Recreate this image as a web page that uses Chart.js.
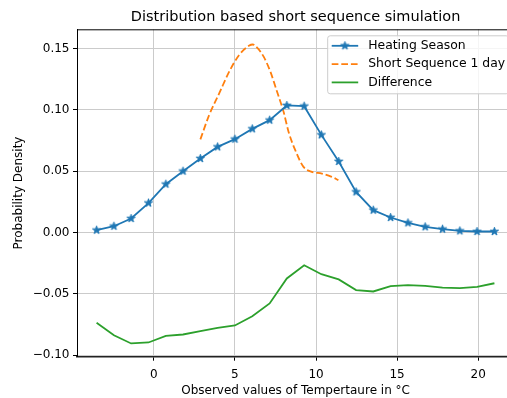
<!DOCTYPE html>
<html>
<head>
<meta charset="utf-8">
<script src="https://cdn.jsdelivr.net/npm/chart.js@4.4.1/dist/chart.umd.min.js"></script>
<style>
    html, body { margin: 0; padding: 0; background: #fff; overflow: hidden; }
    #wrap { width: 507px; height: 398px; overflow: hidden; }
</style>
</head>
<body>
<div id="wrap"><canvas id="chart" width="520" height="398"></canvas></div>
<script>
// Temperature grid shared by the heating season and difference curves (°C)
const temps = [-3.53, -2.46, -1.40, -0.33, 0.74, 1.80, 2.87, 3.93, 5.00, 6.07, 7.14, 8.20,
               9.27, 10.33, 11.40, 12.47, 13.53, 14.60, 15.67, 16.73, 17.80, 18.87, 19.93, 21.00];
const heatingSeason = [0.0019, 0.0051, 0.0114, 0.0240, 0.0394, 0.0500, 0.0603, 0.0698, 0.0761, 0.0845, 0.0916, 0.1036,
                       0.1030, 0.0796, 0.0579, 0.0331, 0.0182, 0.0122, 0.0078, 0.0046, 0.0027, 0.0013, 0.0008, 0.0008];
const difference = [-0.0737, -0.0838, -0.0905, -0.0897, -0.0843, -0.0832, -0.0805, -0.0778, -0.0758, -0.0683, -0.0579, -0.0375,
                    -0.0267, -0.0340, -0.0383, -0.0470, -0.0481, -0.0438, -0.0430, -0.0436, -0.0449, -0.0454, -0.0444, -0.0414];

// Short sequence (1 day) density, only covers part of the range
const shortTemps = [2.87, 3.41, 4.03, 4.64, 5.25, 5.86, 6.10, 6.27, 6.78, 7.19, 7.60, 8.00, 8.31, 8.72, 9.23, 9.74, 10.36, 10.97, 11.38];
const shortSeq = [0.0759, 0.0957, 0.1134, 0.1310, 0.1446, 0.1522, 0.1533, 0.1520, 0.1432, 0.1310, 0.1147, 0.0984,
                  0.0820, 0.0671, 0.0535, 0.0494, 0.0481, 0.0454, 0.0427];

const xTicks = [0, 5, 10, 15, 20];
const yTicks = [-0.10, -0.05, 0.00, 0.05, 0.10, 0.15];
const yTickLabels = ['\u22120.10', '\u22120.05', '0.00', '0.05', '0.10', '0.15'];

const FONT = "'DejaVu Sans', 'Liberation Sans', sans-serif";
const BLUE = '#1f77b4';
const ORANGE = '#ff7f0e';
const GREEN = '#2ca02c';

// matplotlib-like filled star marker
function starMarker(color) {
    const size = 11;
    const c = document.createElement('canvas');
    c.width = c.height = size;
    const g = c.getContext('2d');
    const r = 4.3, ri = r * 0.382, cx = size / 2, cy = size / 2;
    g.beginPath();
    for (let i = 0; i < 10; i++) {
        const a = -Math.PI / 2 + i * Math.PI / 5;
        const rr = i % 2 ? ri : r;
        g.lineTo(cx + rr * Math.cos(a), cy + rr * Math.sin(a));
    }
    g.closePath();
    g.fillStyle = color;
    g.fill();
    g.strokeStyle = color;
    g.lineWidth = 1;
    g.lineJoin = 'round';
    g.stroke();
    return c;
}

const starImg = starMarker(BLUE);

// top spine (the right one is cut off in the original)
const topSpine = {
    id: 'topSpine',
    afterDraw(chart) {
        const { ctx, chartArea } = chart;
        ctx.save();
        ctx.strokeStyle = '#000';
        ctx.lineWidth = 1;
        ctx.beginPath();
        ctx.moveTo(chartArea.left, chartArea.top + 0.5);
        ctx.lineTo(chartArea.right, chartArea.top + 0.5);
        ctx.stroke();
        ctx.restore();
    }
};

// legend box in the upper right corner, drawn like matplotlib does it
const legendBox = {
    id: 'legendBox',
    afterDraw(chart) {
        const { ctx, chartArea } = chart;
        const w = 181, h = 58, rowH = 18.3;
        const x0 = chartArea.right - 6 - w;
        const y0 = chartArea.top + 6;
        ctx.save();
        ctx.beginPath();
        ctx.roundRect(x0 + 0.5, y0 + 0.5, w, h, 2.5);
        ctx.fillStyle = 'rgba(255,255,255,0.8)';
        ctx.fill();
        ctx.strokeStyle = '#cccccc';
        ctx.lineWidth = 1;
        ctx.stroke();

        chart.data.datasets.forEach((ds, i) => {
            const y = y0 + 10.5 + i * rowH;
            ctx.beginPath();
            ctx.setLineDash(ds.borderDash || []);
            ctx.strokeStyle = ds.borderColor;
            ctx.lineWidth = ds.borderWidth;
            ctx.moveTo(x0 + 4.5, y);
            ctx.lineTo(x0 + 31, y);
            ctx.stroke();
            ctx.setLineDash([]);
            if (ds.pointStyle instanceof HTMLCanvasElement) {
                const img = ds.pointStyle;
                ctx.drawImage(img, x0 + 17.7 - img.width / 2, y - img.height / 2);
            }
            ctx.fillStyle = '#000';
            ctx.font = '12.4px ' + FONT;
            ctx.textBaseline = 'middle';
            ctx.fillText(ds.label, x0 + 41, y);
        });
        ctx.restore();
    }
};

const ctx = document.getElementById('chart');
new Chart(ctx, {
    type: 'line',
    data: {
        datasets: [{
            label: 'Heating Season',
            data: temps.map((t, i) => ({ x: t, y: heatingSeason[i] })),
            borderColor: BLUE,
            backgroundColor: BLUE,
            borderWidth: 1.8,
            pointStyle: starImg,
            pointRadius: 4,
            tension: 0,
            fill: false
        }, {
            label: 'Short Sequence 1 day',
            data: shortTemps.map((t, i) => ({ x: t, y: shortSeq[i] })),
            borderColor: ORANGE,
            backgroundColor: ORANGE,
            borderWidth: 1.8,
            borderDash: [6.7, 2.9],
            pointRadius: 0,
            cubicInterpolationMode: 'monotone',
            fill: false
        }, {
            label: 'Difference',
            data: temps.map((t, i) => ({ x: t, y: difference[i] })),
            borderColor: GREEN,
            backgroundColor: GREEN,
            borderWidth: 1.8,
            pointRadius: 0,
            tension: 0,
            fill: false
        }]
    },
    options: {
        responsive: false,
        animation: false,
        devicePixelRatio: 1,
        layout: { padding: { top: 0, right: 3, left: 0, bottom: 0 } },
        plugins: {
            legend: { display: false },
            tooltip: { enabled: false },
            title: {
                display: true,
                fullSize: false,
                text: 'Distribution based short sequence simulation',
                color: '#000',
                font: { family: FONT, size: 14.5, weight: 'normal', lineHeight: 1.2 },
                padding: { top: 8.8, bottom: 3.1 }
            }
        },
        scales: {
            x: {
                type: 'linear',
                min: -4.737,
                max: 22.22,
                afterBuildTicks: (axis) => { axis.ticks = xTicks.map(v => ({ value: v })); },
                afterFit: (scale) => { scale.height = 41.3; },
                ticks: {
                    color: '#000',
                    padding: 6.5,
                    maxRotation: 0,
                    font: { family: FONT, size: 12 }
                },
                grid: {
                    color: '#cbcbcb',
                    lineWidth: 1,
                    tickColor: '#000',
                    tickLength: 4
                },
                border: { display: true, color: '#222', width: 1.4 },
                title: {
                    display: true,
                    text: 'Observed values of Tempertaure in °C',
                    color: '#000',
                    font: { family: FONT, size: 12, lineHeight: 1.2 },
                    padding: { top: 0, bottom: 0 }
                }
            },
            y: {
                type: 'linear',
                min: -0.1013,
                max: 0.1657,
                afterBuildTicks: (axis) => { axis.ticks = yTicks.map(v => ({ value: v })); },
                afterFit: (scale) => { scale.width = 77; },
                ticks: {
                    color: '#000',
                    padding: 3.5,
                    font: { family: FONT, size: 12 },
                    callback: (v) => yTickLabels[yTicks.indexOf(v)]
                },
                grid: {
                    color: '#cbcbcb',
                    lineWidth: 1,
                    tickColor: '#000',
                    tickLength: 4
                },
                border: { display: true, color: '#000', width: 1 },
                title: {
                    display: true,
                    text: 'Probability Density',
                    color: '#000',
                    font: { family: FONT, size: 12, lineHeight: 1.2 },
                    padding: { top: 11.8, bottom: 0 }
                }
            }
        }
    },
    plugins: [topSpine, legendBox]
});
</script>
</body>
</html>
